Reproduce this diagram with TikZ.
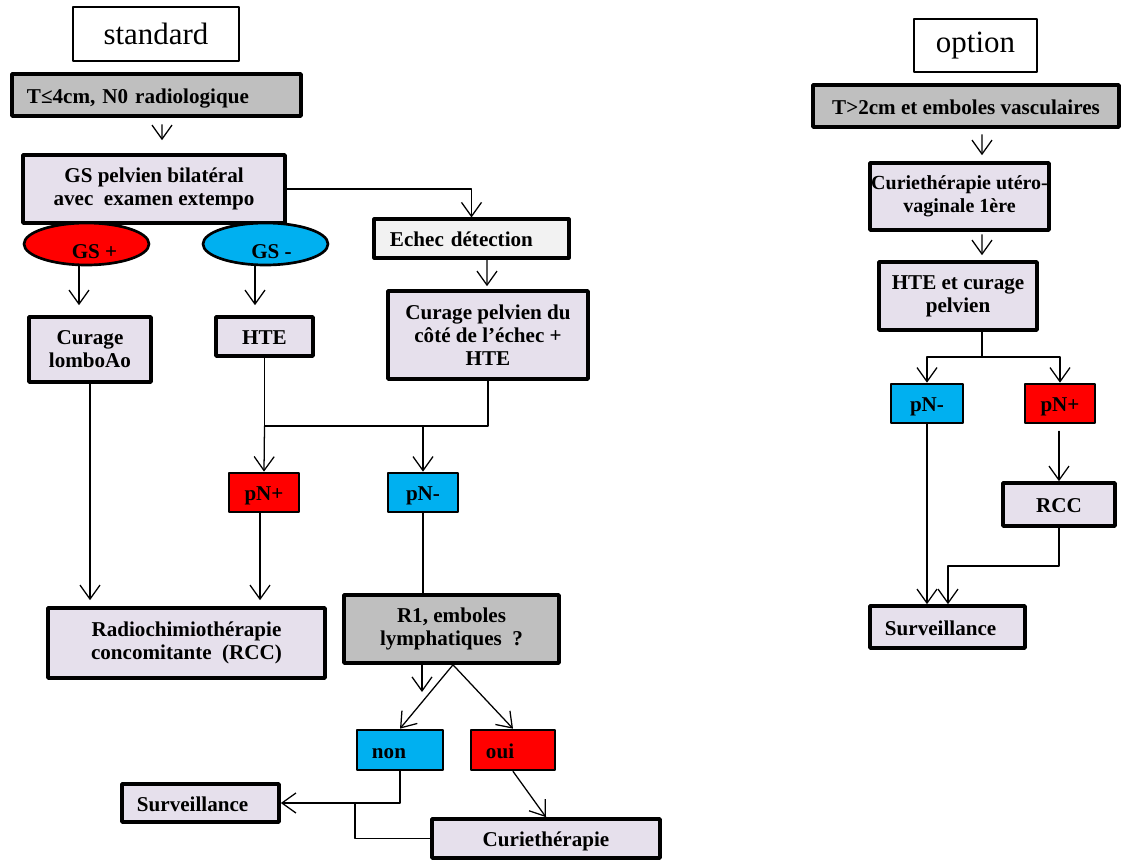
\documentclass[tikz,border=0pt]{standalone}
\usepackage{fontspec}
\setmainfont{Liberation Serif}
\usetikzlibrary{arrows.meta,shapes.geometric,calc}
\definecolor{lav}{HTML}{E6E0EC}
\definecolor{grey}{HTML}{BFBFBF}
\definecolor{pale}{HTML}{F2F2F2}
\definecolor{pos}{HTML}{FF0000}
\definecolor{neg}{HTML}{00B0F0}

\tikzset{
  box/.style={draw,line width=2.6pt,fill=lav,align=center,inner sep=0pt,
    font=\fontsize{15}{16.5}\selectfont\bfseries},
  tag/.style={box,line width=1.9pt},
  oval/.style={tag,ellipse,text height=20pt,text depth=0pt},
  one/.style={text height=11.5pt,text depth=0pt},
  title/.style={draw,line width=0.8pt,fill=white,inner sep=0pt,
    font=\fontsize{22}{26}\selectfont},
  sz/.style 2 args={minimum width=#1*0.025cm,minimum height=#2*0.025cm},
  lt/.style={align=left,inner xsep=0.375cm,text width=#1,one},
  link/.style={line width=0.9pt},
  arr/.style={link,-{Straight Barb[length=3.5mm,width=5mm]}},
}

\begin{document}
\begin{tikzpicture}[x=0.025cm,y=-0.025cm,line cap=round,line join=round]
  \useasboundingbox (0,0) rectangle (1121,861);

  % standard
  \node[title,sz={166}{54}] (std) at (156,34) {standard};
  \node[box,fill=grey,sz={289}{42},lt=6.475cm] (t4) at (156.5,95) {T≤4cm, N0 radiologique};
  \node[box,sz={262}{68}] (gs) at (154,189) {GS pelvien bilatéral\\avec\ \ examen extempo};
  \node[oval,fill=pos,sz={125}{42}] (gsp) at (86.5,244) {\hspace{0.4cm}GS +};
  \node[oval,fill=neg,sz={125}{42}] (gsm) at (265.5,244) {\hspace{0.3cm}GS -};
  \node[box,fill=pale,line width=2.2pt,sz={195}{39},lt=4.075cm,inner xsep=0.4cm] (echec) at (471.5,238.5) {Echec détection};
  \node[box,sz={122}{65}] (cl) at (90,349.5) {Curage\\lomboAo};
  \node[box,one,sz={97}{39}] (hte) at (264.5,336.5) {HTE};
  \node[box,sz={200}{88}] (cp) at (488,335) {Curage pelvien du\\côté de l’échec +\\HTE};
  \node[tag,one,fill=pos,sz={70}{39}] (pnp) at (264,492.5) {pN+};
  \node[tag,one,fill=neg,sz={70}{39}] (pnm) at (423,492.5) {pN-};
  \node[box,sz={277}{70}] (rcc) at (186.5,643) {Radiochimiothérapie\\concomitante\ \ (RCC)};
  \node[box,fill=grey,sz={215}{68}] (r1) at (451.5,629) {R1, emboles\\lymphatiques\ \ ?};
  \node[tag,fill=neg,sz={86}{40},lt=1.4cm] (non) at (400,750) {non};
  \node[tag,fill=pos,sz={84}{40},lt=1.35cm] (oui) at (513,750) {oui};
  \node[box,sz={157}{38},lt=3.175cm] (surv) at (200.5,803) {Surveillance};
  \node[box,one,sz={228}{39}] (curie) at (546,838.5) {Curiethérapie};

  \coordinate (mrg) at (423,426);
  \coordinate (stub) at (422,692);
  \coordinate (tee) at (355,803);

  \draw[arr] ($(t4.south)+(5.5,7)$) -- ($(gs.north)+(8,-13)$);
  \draw[arr] (gs.east) -| (echec.north);
  \draw[arr] ($(gsp.south)+(-7.5,-2)$) -- ($(cl.north)+(-11,-10)$);
  \draw[arr] ($(gsm.south)+(-10.5,-2)$) -- ($(hte.north)+(-9.5,-10)$);
  \draw[arr] ($(echec.south)+(15.5,0)$) -- ($(cp.north)+(-1,-3)$);
  \draw[link] (hte.south) -- (hte.south |- mrg) -- (cp.south |- mrg) -- (cp.south);
  \draw[arr] (hte.south |- mrg) -- (pnp.north);
  \draw[arr] (mrg) -- (pnm.north);
  \draw[arr] (cl.south) -- ($(cl.south |- rcc.north)+(0,-6)$);
  \draw[arr] ($(pnp.south)+(-4,0)$) -- ($(pnp.south |- rcc.north)+(-4,-6)$);
  \draw[link] (pnm.south) -- (pnm.south |- r1.north);
  \draw[arr] (stub |- r1.south) -- (stub);
  \draw[arr] ($(r1.south)+(1.5,0)$) -- (non.north);
  \draw[arr] ($(r1.south)+(1.5,0)$) -- (oui.north);
  \draw[arr] (non.south) |- (surv.east);
  \draw[link] (curie.west) -| (tee);
  \draw[arr] (oui.south) -- (curie.north);

  % option
  \node[title,sz={123}{53}] (opt) at (975.5,45.5) {option};
  \node[box,one,fill=grey,sz={306}{42}] (t2) at (966,106) {T>2cm et emboles vasculaires};
  \node[box,sz={179}{67},font=\fontsize{14.2}{16.5}\selectfont\bfseries] (cuv) at (959.5,196.5) {Curiethérapie utéro-\\vaginale 1ère};
  \node[box,sz={158}{68}] (htec) at (958,296) {HTE et curage\\pelvien};
  \node[tag,one,fill=neg,sz={72}{39}] (pnm2) at (927,403.5) {pN-};
  \node[tag,one,fill=pos,sz={70}{39}] (pnp2) at (1060,403.5) {pN+};
  \node[box,one,sz={112}{43}] (rcc2) at (1059,504.5) {RCC};
  \node[box,sz={155}{42},lt=3.125cm] (surv2) at (947.5,627) {Surveillance};

  \coordinate (spl) at (982,357);
  \coordinate (bend) at (948,566);

  \draw[arr] ($(t2.south)+(16,6)$) -- ($(cuv.north)+(22.5,-6)$);
  \draw[arr] ($(cuv.south)+(22.5,3)$) -- ($(htec.north)+(24,-5)$);
  \draw[link] ($(htec.south)+(24,0)$) -- (spl);
  \draw[arr] (spl) -| (pnm2.north);
  \draw[arr] (spl) -| (pnp2.north);
  \draw[arr] ($(rcc2.north |- pnp2.south)+(0,7)$) -- (rcc2.north);
  \draw[arr] (pnm2.south) -- (pnm2.south |- surv2.north);
  \draw[arr] (rcc2.south) |- (bend) -- (bend |- surv2.north);

\end{tikzpicture}
\end{document}
